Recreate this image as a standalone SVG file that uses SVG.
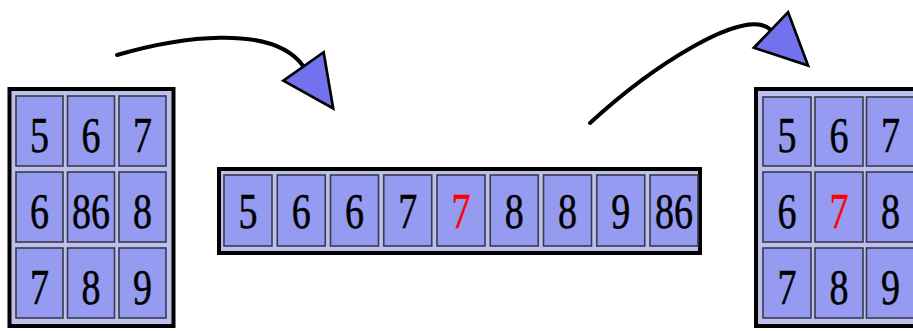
<svg xmlns="http://www.w3.org/2000/svg" width="913" height="331" viewBox="0 0 913 331">
<style>
.frame{fill:#bcc0ea;stroke:#000;stroke-width:4}
.cell{fill:#959bf0;stroke:#3a3a4a;stroke-width:1.6}
.d{font-family:"Liberation Serif","DejaVu Serif","Times New Roman",serif;font-size:38px;fill:#000;stroke:#000;stroke-width:0.4;text-anchor:middle}
.r{fill:#ff0000;stroke:#ff0000}
.conn{fill:none;stroke:#000;stroke-width:4;stroke-linecap:round}
</style>
<defs>
<marker id="head" markerUnits="userSpaceOnUse" markerWidth="60" markerHeight="60" refX="0" refY="0" viewBox="-3 -27 56 54" orient="auto" overflow="visible">
<path d="M0,-23 L48,0 L0,23 Z" fill="#7272ee" stroke="#000" stroke-width="2.5" stroke-linejoin="miter"/>
</marker>
</defs>
<rect width="913" height="331" fill="#fff"/>
<g id="left-grid">
<rect class="frame" x="9.5" y="89" width="164" height="237"/>
<rect class="cell" x="16" y="96" width="47" height="70"/>
<rect class="cell" x="67.5" y="96" width="47" height="70"/>
<rect class="cell" x="119" y="96" width="47" height="70"/>
<rect class="cell" x="16" y="172" width="47" height="70"/>
<rect class="cell" x="67.5" y="172" width="47" height="70"/>
<rect class="cell" x="119" y="172" width="47" height="70"/>
<rect class="cell" x="16" y="248" width="47" height="70"/>
<rect class="cell" x="67.5" y="248" width="47" height="70"/>
<rect class="cell" x="119" y="248" width="47" height="70"/>
<text class="d" transform="translate(39.5,152) scale(1,1.36)">5</text>
<text class="d" transform="translate(91,152) scale(1,1.36)">6</text>
<text class="d" transform="translate(142.5,152) scale(1,1.36)">7</text>
<text class="d" transform="translate(39.5,228) scale(1,1.36)">6</text>
<text class="d" transform="translate(91,228) scale(1,1.36)">86</text>
<text class="d" transform="translate(142.5,228) scale(1,1.36)">8</text>
<text class="d" transform="translate(39.5,304) scale(1,1.36)">7</text>
<text class="d" transform="translate(91,304) scale(1,1.36)">8</text>
<text class="d" transform="translate(142.5,304) scale(1,1.36)">9</text>
</g>
<g id="sorted-strip">
<rect class="frame" x="219" y="169" width="481" height="84"/>
<rect class="cell" x="224" y="175" width="48" height="71"/>
<rect class="cell" x="277.25" y="175" width="48" height="71"/>
<rect class="cell" x="330.5" y="175" width="48" height="71"/>
<rect class="cell" x="383.75" y="175" width="48" height="71"/>
<rect class="cell" x="437" y="175" width="48" height="71"/>
<rect class="cell" x="490.25" y="175" width="48" height="71"/>
<rect class="cell" x="543.5" y="175" width="48" height="71"/>
<rect class="cell" x="596.75" y="175" width="48" height="71"/>
<rect class="cell" x="650" y="175" width="48" height="71"/>
<text class="d" transform="translate(248,228) scale(1,1.36)">5</text>
<text class="d" transform="translate(301.25,228) scale(1,1.36)">6</text>
<text class="d" transform="translate(354.5,228) scale(1,1.36)">6</text>
<text class="d" transform="translate(407.75,228) scale(1,1.36)">7</text>
<text class="d r" transform="translate(461,228) scale(1,1.36)">7</text>
<text class="d" transform="translate(514.25,228) scale(1,1.36)">8</text>
<text class="d" transform="translate(567.5,228) scale(1,1.36)">8</text>
<text class="d" transform="translate(620.75,228) scale(1,1.36)">9</text>
<text class="d" transform="translate(674,228) scale(1,1.36)">86</text>
</g>
<g id="right-grid">
<rect class="frame" x="756" y="89" width="180" height="237"/>
<rect class="cell" x="763" y="97" width="48" height="69"/>
<rect class="cell" x="815" y="97" width="48" height="69"/>
<rect class="cell" x="866.5" y="97" width="48" height="69"/>
<rect class="cell" x="763" y="172" width="48" height="70"/>
<rect class="cell" x="815" y="172" width="48" height="70"/>
<rect class="cell" x="866.5" y="172" width="48" height="70"/>
<rect class="cell" x="763" y="248" width="48" height="70"/>
<rect class="cell" x="815" y="248" width="48" height="70"/>
<rect class="cell" x="866.5" y="248" width="48" height="70"/>
<text class="d" transform="translate(787,152) scale(1,1.36)">5</text>
<text class="d" transform="translate(839,152) scale(1,1.36)">6</text>
<text class="d" transform="translate(890.5,152) scale(1,1.36)">7</text>
<text class="d" transform="translate(787,228) scale(1,1.36)">6</text>
<text class="d r" transform="translate(839,228) scale(1,1.36)">7</text>
<text class="d" transform="translate(890.5,228) scale(1,1.36)">8</text>
<text class="d" transform="translate(787,304) scale(1,1.36)">7</text>
<text class="d" transform="translate(839,304) scale(1,1.36)">8</text>
<text class="d" transform="translate(890.5,304) scale(1,1.36)">9</text>
</g>
<g id="connectors">
<path class="conn" d="M117,55 C175,38 272,22 303.5,66.5" marker-end="url(#head)"/>
<path class="conn" d="M590,123 C650,68 745,5 771,30" marker-end="url(#head)"/>
</g>
</svg>
